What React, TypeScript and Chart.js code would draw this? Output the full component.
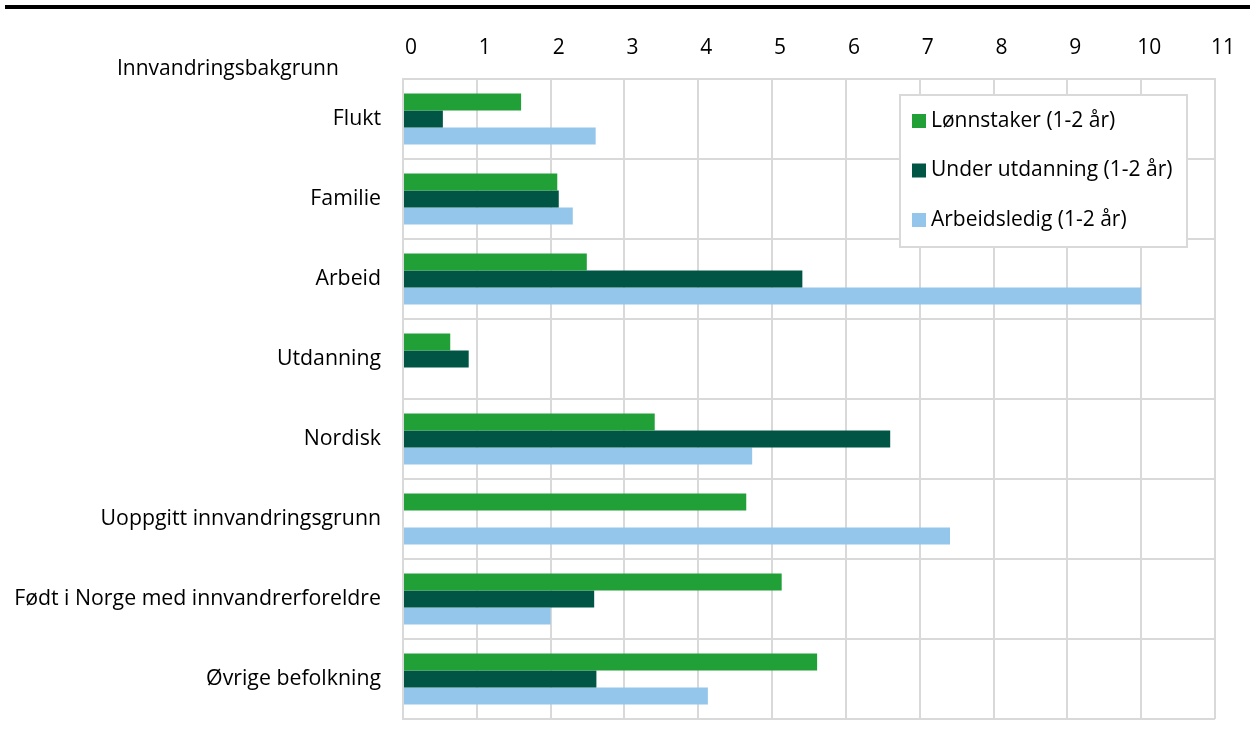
import React, { useEffect, useRef } from "react";
import { Chart, registerables } from "chart.js";

Chart.register(...registerables);

const categories = [
  "Flukt",
  "Familie",
  "Arbeid",
  "Utdanning",
  "Nordisk",
  "Uoppgitt innvandringsgrunn",
  "Født i Norge med innvandrerforeldre",
  "Øvrige befolkning",
];
const seriesNames = ["Lønnstaker (1-2 år)", "Under utdanning (1-2 år)", "Arbeidsledig (1-2 år)"];
const lonnstaker = [1.6, 2.09, 2.49, 0.64, 3.41, 4.65, 5.13, 5.61];
const underUtdanning = [0.54, 2.11, 5.41, 0.89, 6.6, null, 2.59, 2.62];
const arbeidsledig = [2.61, 2.3, 10.0, null, 4.73, 7.41, 2.0, 4.13];
const axisTitle = "Innvandringsbakgrunn";
const xMin = 0;
const xMax = 11;

const COLORS = ["#21a038", "#005544", "#94c6eb"];
const FONT = "'Open Sans', sans-serif";
const FS = 21;

const overlayPlugin = {
  id: "overlay",
  afterDraw(chart: any) {
    const ctx = chart.ctx;
    ctx.save();
    // top rule
    ctx.fillStyle = "#000";
    ctx.fillRect(5, 5, 1245, 4);
    // axis title
    ctx.font = `${FS}px ${FONT}`;
    ctx.fillStyle = "#000";
    ctx.textAlign = "left";
    ctx.textBaseline = "middle";
    ctx.fillText(axisTitle, 117, 69);
    // legend box
    const bx = 900, by = 95, bw = 287, bh = 152;
    ctx.fillStyle = "#fff";
    ctx.fillRect(bx, by, bw, bh);
    ctx.strokeStyle = "#d9d9d9";
    ctx.lineWidth = 2;
    ctx.strokeRect(bx, by, bw, bh);
    chart.data.datasets.forEach((ds: any, i: number) => {
      const cy = 121 + i * 49.5;
      ctx.fillStyle = ds.backgroundColor;
      ctx.fillRect(912, cy - 7, 14, 14);
      ctx.fillStyle = "#000";
      ctx.font = `${FS}px ${FONT}`;
      ctx.textAlign = "left";
      ctx.textBaseline = "middle";
      ctx.fillText(ds.label, 931, cy);
    });
    ctx.restore();
  },
};

export default function App() {
  const ref = useRef<HTMLCanvasElement>(null);
  useEffect(() => {
    const chart = new Chart(ref.current!, {
      type: "bar",
      data: {
        labels: categories,
        datasets: [
          { label: seriesNames[0], data: lonnstaker, backgroundColor: COLORS[0] },
          { label: seriesNames[1], data: underUtdanning, backgroundColor: COLORS[1] },
          { label: seriesNames[2], data: arbeidsledig, backgroundColor: COLORS[2] },
        ] as any,
      },
      options: {
        indexAxis: "y",
        responsive: false,
        animation: false,
        devicePixelRatio: 1,
        layout: { padding: { left: 0, right: 35, top: 34, bottom: 10 } },
        datasets: { bar: { categoryPercentage: 0.64, barPercentage: 1 } } as any,
        plugins: { legend: { display: false }, tooltip: { enabled: false } },
        scales: {
          x: {
            position: "top",
            min: xMin,
            max: xMax,
            ticks: { stepSize: 1, color: "#000", font: { family: FONT, size: FS }, padding: 18, labelOffset: 8 },
            grid: { color: "#d9d9d9", lineWidth: 2, drawTicks: false },
            border: { color: "#d9d9d9", width: 2 },
            afterFit(scale: any) {
              scale.height = 45;
            },
          },
          y: {
            ticks: { color: "#000", font: { family: FONT, size: 21.3 }, padding: 22 },
            grid: { color: "#d9d9d9", lineWidth: 2, drawTicks: false, offset: true },
            border: { color: "#d9d9d9", width: 2 },
            afterFit(scale: any) {
              scale.paddingTop = 0;
              scale.paddingBottom = 0;
              scale.width = 403;
            },
          },
        },
      },
      plugins: [overlayPlugin],
    });
    return () => chart.destroy();
  }, []);
  return (
    <div style={{ position: "fixed", left: 0, top: 0, width: 1250, height: 729, background: "#fff" }}>
      <canvas ref={ref} width={1250} height={729} style={{ width: 1250, height: 729 }} />
    </div>
  );
}
